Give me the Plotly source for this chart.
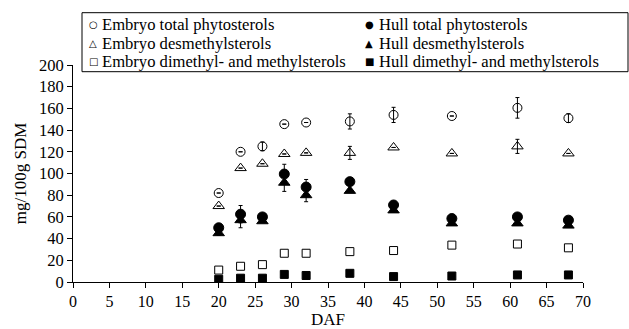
import plotly.graph_objects as go

daf = [20, 23, 26, 29, 32, 38, 44, 52, 61, 68]

embryo_total = [82, 120, 125, 145.5, 147, 148, 154, 153, 160.5, 151]
embryo_total_err = [0, 0, 4, 0, 0, 7, 7, 0, 9.5, 4]
embryo_desm = [70, 105, 109, 118, 119, 119, 124, 118.5, 125, 118.5]
embryo_desm_err = [0, 0, 0, 0, 0, 6, 0, 0, 6.5, 0]
embryo_dim = [11, 14.5, 16, 26.5, 26.5, 28, 29, 34, 35, 31.5]
hull_total = [50, 62.5, 60, 99.5, 87.5, 92.5, 71, 58.5, 60, 57]
hull_total_err = [3, 8, 0, 9, 7, 0, 2, 0, 0, 0]
hull_desm = [45, 57, 56, 91.5, 80, 84, 66, 54, 54, 52]
hull_desm_err = [2, 7, 0, 8, 6, 0, 0, 0, 0, 0]
hull_dim = [2.5, 3.5, 3.5, 7, 6, 8, 5, 5.5, 6.5, 6.5]

legend_col1 = ["Embryo total phytosterols", "Embryo desmethylsterols",
               "Embryo dimethyl- and methylsterols"]
legend_col2 = ["Hull total phytosterols", "Hull desmethylsterols",
               "Hull dimethyl- and methylsterols"]
legend_sym1 = ["○", "△", "□"]
legend_sym2 = ["●", "▲", "■"]

FONT = "Liberation Serif"
fig = go.Figure()

series = [
    (legend_col1[0], embryo_total, embryo_total_err, "circle-open", 9),
    (legend_col2[0], hull_total, hull_total_err, "circle", 10),
    (legend_col1[1], embryo_desm, embryo_desm_err, "triangle-up-open", 10),
    (legend_col2[1], hull_desm, hull_desm_err, "triangle-up", 10),
    (legend_col1[2], embryo_dim, None, "square-open", 8),
    (legend_col2[2], hull_dim, None, "square", 8),
]

for name, vals, err, sym, size in series:
    kw = {}
    if err is not None:
        kw["error_y"] = dict(type="data", array=err, visible=True, color="black", thickness=1, width=2)
    fig.add_trace(go.Scatter(
        x=daf, y=vals, mode="markers", name=name, showlegend=False,
        marker=dict(symbol=sym, size=size, color="black", line=dict(color="black", width=1)),
        **kw))

L, R, T, B = 73, 46, 65, 47
W, H = 629 - L - R, 329 - T - B

def px(x):
    return (x - L) / W

def py(y):
    return (329 - B - y) / H

fig.update_layout(
    width=629, height=329,
    margin=dict(l=L, r=R, t=T, b=B, autoexpand=False),
    paper_bgcolor="white", plot_bgcolor="white",
    font=dict(family=FONT, size=16, color="black"),
    showlegend=False,
    xaxis=dict(range=[0, 70], tick0=0, dtick=5, showline=True, linecolor="black", linewidth=1,
               ticks="outside", ticklen=5, tickcolor="black", showgrid=False, zeroline=False,
               automargin=False, tickfont=dict(size=16),
               title=dict(text="DAF", standoff=0, font=dict(size=17))),
    yaxis=dict(range=[0, 200], tick0=0, dtick=20, showline=True, linecolor="black", linewidth=1,
               ticks="outside", ticklen=5, tickcolor="black", showgrid=False, zeroline=False,
               automargin=False, tickfont=dict(size=16.5),
               title=dict(text="mg/100g SDM", standoff=8, font=dict(size=17))),
)

# legend box
fig.add_shape(type="rect", xref="paper", yref="paper", x0=px(82), x1=px(628), y0=py(71.7), y1=py(12.7),
              line=dict(color="black", width=1), fillcolor="rgba(0,0,0,0)", layer="above")

rows = [25, 43, 61]
for i, r in enumerate(rows):
    for sym, txt, xs, xt in [(legend_sym1[i], legend_col1[i], 93, 100),
                             (legend_sym2[i], legend_col2[i], 369, 377)]:
        fig.add_annotation(text=sym, xref="paper", yref="paper", x=px(xs), y=py(r),
                           xanchor="center", yanchor="middle", showarrow=False,
                           font=dict(family="DejaVu Sans", size=10, color="black"))
        fig.add_annotation(text=txt, xref="paper", yref="paper", x=px(xt), y=py(r),
                           xanchor="left", yanchor="middle", showarrow=False,
                           font=dict(family=FONT, size=16.6, color="black"))

fig.write_html("out.html")
